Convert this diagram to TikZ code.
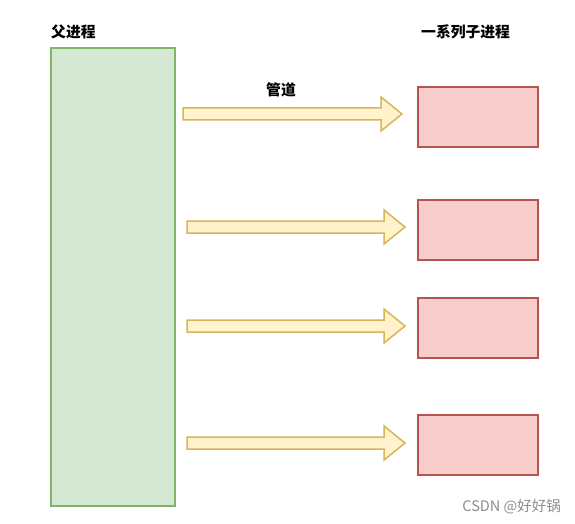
\documentclass[tikz,border=0pt]{standalone}
\usepackage{fontspec}
\newfontfamily\cjk{Noto Sans CJK SC}
\definecolor{pgreen}{HTML}{D5E8D4}
\definecolor{dgreen}{HTML}{82B366}
\definecolor{pred}{HTML}{F8CECC}
\definecolor{dred}{HTML}{B85450}
\definecolor{pyellow}{HTML}{FFF2CC}
\definecolor{dyellow}{HTML}{D6B656}
\tikzset{
  parentbox/.style={draw=dgreen,fill=pgreen,line width=1.5pt},
  childbox/.style={draw=dred,fill=pred,line width=1.5pt},
  pipe/.style={draw=dyellow,fill=pyellow,line width=1.5pt,line join=miter},
  lbl/.style={font=\cjk\bfseries\fontsize{14.8}{16}\selectfont,inner sep=0pt}
}
% block arrow: #1 = start x, #2 = tip x, #3 = centre y
\newcommand{\pipearrow}[3]{%
\draw[pipe] (#1,#3-6) -- (#2-21,#3-6) -- (#2-21,#3-17) -- (#2,#3)
  -- (#2-21,#3+17) -- (#2-21,#3+6) -- (#1,#3+6) -- cycle;}
\begin{document}
\begin{tikzpicture}[x=1pt,y=-1pt]
\useasboundingbox (0,0) rectangle (575,524);

\draw[parentbox] (51,48) rectangle (175,506);
\node[lbl,anchor=west] (P) at (51,32) {父进程};
\node[lbl,anchor=west] (C) at (421,32) {一系列子进程};

\draw[childbox] (418,87) rectangle (538,147);
\draw[childbox] (418,200) rectangle (538,260);
\draw[childbox] (418,298) rectangle (538,358);
\draw[childbox] (418,415) rectangle (538,475);

\pipearrow{183}{402}{114}
\pipearrow{187}{405}{227}
\pipearrow{187}{405}{326}
\pipearrow{187}{405}{443}
\node[lbl] (G) at (281,90) {管道};

\node[font=\cjk\fontsize{14.5}{16}\selectfont,text=black!45,anchor=east,inner sep=0pt] (W) at (561,507) {CSDN @好好锅};
\end{tikzpicture}
\end{document}
